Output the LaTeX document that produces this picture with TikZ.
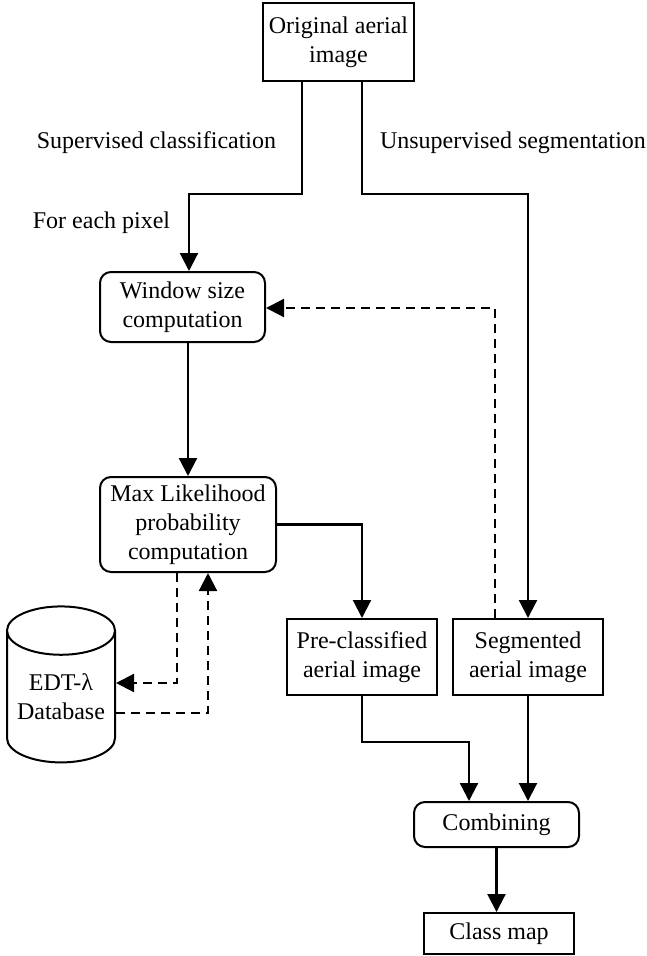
\documentclass[tikz,border=0pt]{standalone}
\usepackage{fontspec}
\setmainfont{Liberation Serif}
\usetikzlibrary{arrows.meta,shapes.geometric}

\tikzset{
	box/.style={draw, line width=2pt, align=center, inner sep=0pt,
		font=\fontsize{24}{29}\selectfont},
	roundbox/.style={box, rounded corners=11pt},
	flow/.style={line width=2.2pt, -{Triangle[length=18pt,width=18pt]}},
	dashflow/.style={flow, dash pattern=on 9pt off 6pt},
	lbl/.style={font=\fontsize{24}{29}\selectfont}
}

\begin{document}
\begin{tikzpicture}[x=1pt,y=-1pt]
	\useasboundingbox (0,0) rectangle (647,956);

	\node[box, minimum width=151, minimum height=78] (orig) at (338.5,42) {Original aerial\\image};
	\node[roundbox, minimum width=165, minimum height=70] (win) at (182.5,307) {Window size\\computation};
	\node[roundbox, minimum width=176, minimum height=95] (ml) at (188,524.5) {Max Likelihood\\probability\\computation};
	\node[box, cylinder, shape border rotate=90, aspect=0.55,
		minimum width=108, minimum height=156] (db) at (61,697) {EDT-λ\\Database};
	\node[box, minimum width=150, minimum height=76] (pre) at (362,657) {Pre-classified\\aerial image};
	\node[box, minimum width=150, minimum height=76] (seg) at (528,657) {Segmented\\aerial image};
	\node[roundbox, minimum width=165, minimum height=45] (comb) at (496.5,824.5) {Combining};
	\node[box, minimum width=150, minimum height=41] (cmap) at (499,933.5) {Class map};

	% labels
	\node[lbl] (sup) at (156.5,143) {Supervised classification};
	\node[lbl] (unsup) at (513,143) {Unsupervised segmentation};
	\node[lbl] (pix) at (101.5,223) {For each pixel};

	% solid connectors
	\draw[flow] ([xshift=-36.5]orig.south) -- ++(0,112) -| ([xshift=6.5]win.north);
	\draw[flow] ([xshift=23.5]orig.south) -- ++(0,112) -| (seg.north);
	\draw[flow] (win.south -| ml.north) -- (ml.north);
	\draw[flow] (ml.east) -| (pre.north);
	\draw[flow] (pre.south) -- ++(0,46) -| ([xshift=-27.5]comb.north);
	\draw[flow] (seg.south) -- (seg.south |- comb.north);
	\draw[flow] (comb.south) -- (comb.south |- cmap.north);

	% dashed feedback
	\draw[dashflow] ([xshift=-33]seg.north) |- ([yshift=-1]win.east);
	\draw[dashflow] ([xshift=-11]ml.south) |- ([yshift=14]db.east);
	\draw[dashflow] ([yshift=-16]db.east) -| ([xshift=20]ml.south);
\end{tikzpicture}
\end{document}
